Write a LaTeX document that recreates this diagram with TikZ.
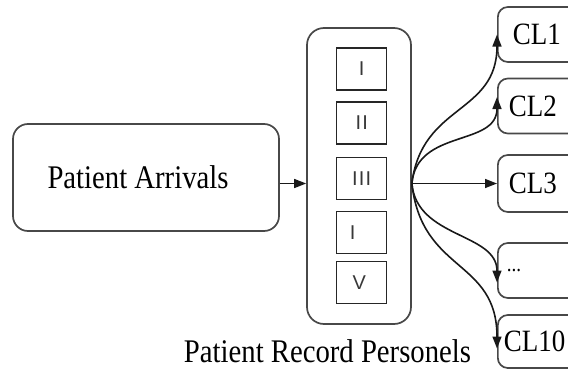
\documentclass[tikz,border=0pt]{standalone}
\usepackage{fontspec}
\setmainfont{Liberation Serif}
\newfontfamily\serifn[FakeStretch=0.87]{Liberation Serif}
\newfontfamily\romfont[LetterSpace=6]{Liberation Sans}
\usetikzlibrary{arrows.meta,calc}
\definecolor{bord}{HTML}{484848}
\definecolor{romgray}{HTML}{383838}
\begin{document}
\begin{tikzpicture}[x=1pt,y=-1pt,
  pabox/.style={draw=bord, line width=1.7pt, rounded corners=15pt, inner sep=0pt},
  contbox/.style={draw=bord, line width=1.7pt, rounded corners=17pt, inner sep=0pt},
  inbox/.style={draw=black!85, line width=1.5pt, inner sep=0pt, minimum width=50pt, minimum height=42pt,
    font=\fontsize{20}{20}\romfont, text=romgray},
  clbox/.style={draw=bord, line width=1.7pt, rounded corners=10pt, anchor=west, minimum height=55pt,
    text width=100pt, align=left, inner ysep=0pt, font=\fontsize{31}{31}\serifn},
  arr/.style={draw=black!90, line width=1.6pt, -{Triangle[length=12pt,width=9pt]}},
  lbl/.style={font=\fontsize{33}{36}\serifn}
]
\useasboundingbox (0,0) rectangle (568,370);
\clip (0,0) rectangle (568,370);

\node[pabox, minimum width=266pt, minimum height=107pt, font=\fontsize{33}{36}\serifn] (pa) at (146,177.5) {Patient Arrivals\hspace*{16pt}};

\node[contbox, minimum width=104pt, minimum height=296pt] (cont) at (359,176) {};
\node[inbox] (b1) at (361.7,69) {I};
\node[inbox] (b2) at (361.7,123) {II};
\node[inbox] (b3) at (361.7,178.5) {III};
\node[inbox] (b4) at (361.7,232.5) {I\hspace*{18pt}};
\node[inbox] (b5) at (361.7,282.5) {V\hspace*{5pt}};

\node[clbox, inner xsep=15pt] (cl1) at (497,34.5) {CL1};
\node[clbox, inner xsep=11pt] (cl2) at (497,106) {CL2};
\node[clbox, inner xsep=11pt, minimum height=57pt] (cl3) at (497,183.5) {CL3};
\node[clbox, inner xsep=9pt, font=\fontsize{22}{22}\serifn] (dots) at (497,270.5) {...};
\node[clbox, inner xsep=6pt, minimum height=53pt] (cl10) at (497,341.5) {CL10};

\coordinate (fan) at (cont.east |- cl3.west);
\draw[arr] (pa.east |- fan) -- (cont.west |- fan);
\draw[arr] (fan) .. controls +(10,-80) and +(0,80) .. (cl1.west);
\draw[arr] (fan) .. controls +(5,-55) and +(0,50) .. ($(cl2.west)+(0,-9)$);
\draw[arr] (fan) -- (cl3.west);
\draw[arr] (fan) .. controls +(5,55) and +(0,-50) .. ($(dots.west)+(0,12)$);
\draw[arr] (fan) .. controls +(10,90) and +(0,-90) .. ($(cl10.west)+(0,7)$);

\node[lbl, anchor=base] (cap) at (327.5,362) {Patient Record Personels};
\end{tikzpicture}
\end{document}
